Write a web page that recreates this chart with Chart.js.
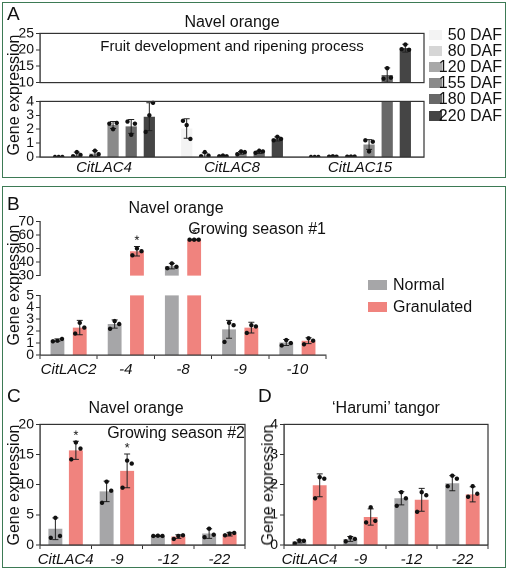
<!DOCTYPE html>
<html><head><meta charset="utf-8">
<script src="https://cdn.jsdelivr.net/npm/chart.js@4/dist/chart.umd.min.js"></script>
<style>
body{margin:0;width:508px;height:570px;position:relative;background:#fff;font-family:"Liberation Sans",Arial,sans-serif;color:#111;overflow:hidden}
.box{position:absolute;border:1.5px solid #3d7a55;box-sizing:border-box}
.t{position:absolute;white-space:nowrap;line-height:1}
canvas{position:absolute}
.sw{position:absolute}
.yt{position:absolute;transform:translate(-50%,-50%) rotate(-90deg);white-space:nowrap;font-size:16px}
</style></head><body>
<div class="box" style="left:2px;top:2px;width:504px;height:176px"></div>
<div class="box" style="left:2px;top:186px;width:504px;height:382px"></div>
<div id="root"></div>
<script>
// ---------- DATA ----------
const catsA = ["CitLAC4","CitLAC8","CitLAC15"];
const seriesA = ["50 DAF","80 DAF","120 DAF","155 DAF","180 DAF","220 DAF"];
const meansA = [[0.02,2.05,0.02],[0.2,0.15,0.03],[0.25,0.05,0.03],[2.3,0.3,0.9],[2.2,0.35,12.3],[2.9,1.3,20.5]];
const sdA = [[0,0.7,0],[0.15,0.15,0.02],[0.2,0.05,0.01],[0.25,0.1,0.35],[0.5,0.1,2.2],[1.0,0.15,1.2]];
const ptsA = [
 [[0,0,0],[2.6,2.3,1.3],[0,0,0]],
 [[0.05,0.35,0.15],[0.05,0.35,0.1],[0.02,0.05,0.02]],
 [[0.05,0.45,0.2],[0.05,0.1,0.05],[0.02,0.03,0.03]],
 [[2.4,2.0,2.45],[0.2,0.4,0.35],[1.2,0.4,1.1]],
 [[2.55,1.6,2.4],[0.3,0.45,0.4],[11.2,14.4,11.5]],
 [[1.8,3.0,3.9],[1.2,1.45,1.3],[20.2,21.6,20.0]]];
const colorsA = ["#f3f3f3","#d6d6d6","#a8a8a8","#8a8a8a","#686868","#454545"];

const catsB = ["CitLAC2","-4","-8","-9","-10"];
const normB = [1.25,2.6,37,2.15,1.05], normSdB=[0.1,0.35,2,0.75,0.25];
const granB = [2.3,48,56.5,2.3,1.2], granSdB=[0.6,3.5,0.3,0.45,0.25];
const normPtsB=[[1.15,1.2,1.35],[2.2,2.85,2.6],[35.5,39,36.5],[1.1,2.7,2.5],[0.8,1.25,1.0]];
const granPtsB=[[1.8,2.7,2.3],[45,50,48],[56.5,56.5,56.5],[1.85,2.5,2.4],[0.9,1.4,1.2]];
const starsB=[false,true,true,false,false];

const catsC = ["CitLAC4","-9","-12","-22"];
const normC=[2.7,8.9,1.5,1.9], normSdC=[1.8,1.7,0.1,0.8];
const granC=[15.7,12.3,1.4,1.8], granSdC=[1.5,2.8,0.3,0.3];
const normPtsC=[[1.2,4.5,1.5],[7,10.5,9],[1.5,1.55,1.5],[1.3,2.7,1.7]];
const granPtsC=[[14.2,17,16],[9.5,14,13.5],[1.0,1.5,1.6],[1.6,1.9,2.0]];
const starsC=[true,true,false,false];

const catsD = ["CitLAC4","-9","-12","-22"];
const normD=[0.12,0.2,1.55,2.05], normSdD=[0.05,0.08,0.22,0.25];
const granD=[1.98,0.93,1.5,1.68], granSdD=[0.38,0.27,0.38,0.25];
const normPtsD=[[0.05,0.15,0.14],[0.12,0.25,0.2],[1.3,1.75,1.55],[1.95,2.3,2.2]];
const granPtsD=[[1.55,2.25,2.2],[0.75,1.25,0.8],[1.1,1.75,1.65],[1.6,1.95,1.7]];

const NORMAL="#a6a6a8", GRAN="#f0837e";
const FONT='Arial,"Liberation Sans",sans-serif';

// ---------- plugin ----------
const deco={id:'deco',afterDatasetsDraw(ch,a,o){
  const c=ch.ctx,ca=ch.chartArea,y=ch.scales.y;
  c.save();c.beginPath();c.rect(ca.left,ca.top-14,ca.right-ca.left,ca.bottom-ca.top+14);c.clip();
  ch.data.datasets.forEach((ds,di)=>{
    ch.getDatasetMeta(di).data.forEach((bar,i)=>{
      const m=ds.data[i],s=ds.sd[i],x=bar.x,w=bar.width;
      c.strokeStyle='#222';c.lineWidth=1;c.beginPath();
      const y1=y.getPixelForValue(m-s),y2=y.getPixelForValue(m+s);
      c.moveTo(x,y1);c.lineTo(x,y2);c.moveTo(x-3,y1);c.lineTo(x+3,y1);c.moveTo(x-3,y2);c.lineTo(x+3,y2);c.stroke();
      c.fillStyle='#111';
      ds.pts[i].forEach((p,k)=>{c.beginPath();c.arc(x+(k-1)*w*0.33,y.getPixelForValue(p),2.2,0,7);c.fill();});
      if(ds.stars&&ds.stars[i]){const ty=y.getPixelForValue(m+s);if(ty>=ca.top-2){c.font='13px '+FONT;c.textAlign='center';c.fillText('*',x,ty-2);}}
    });
  });
  c.restore();
  if(o.box){c.save();c.strokeStyle='#333';c.lineWidth=1.2;c.strokeRect(ca.left,ca.top,ca.right-ca.left,ca.bottom-ca.top);c.restore();}
}};

function mk(plot,opt){
  const yw=38,xh=opt.xlabels?22:0;
  const cv=document.createElement('canvas');
  const W=plot.r-plot.l+yw+4,H=plot.b-plot.t+8+(opt.xlabels?xh:4);
  cv.style.left=(plot.l-yw)+'px';cv.style.top=(plot.t-8)+'px';
  cv.style.width=W+'px';cv.style.height=H+'px';cv.width=W;cv.height=H;
  document.getElementById('root').appendChild(cv);
  new Chart(cv,{type:'bar',data:{labels:opt.labels,datasets:opt.datasets},
   plugins:[deco],
   options:{responsive:false,animation:false,devicePixelRatio:2,
    layout:{padding:{top:8,right:4,bottom:opt.xlabels?0:4,left:0}},
    plugins:{legend:{display:false},tooltip:{enabled:false},deco:{box:opt.box}},
    datasets:{bar:{categoryPercentage:opt.cp,barPercentage:opt.bp}},
    scales:{
     x:{display:!!opt.xlabels,grid:{drawOnChartArea:false,drawTicks:opt.xticks,tickLength:4,color:'#333'},border:{display:true,color:'#333',width:1.2},
        ticks:{font:{family:FONT,size:15,style:'italic'},color:'#111',padding:2,maxRotation:0,autoSkip:false},
        afterFit(s){s.height=xh;}},
     y:{min:opt.min,max:opt.max,grid:{drawOnChartArea:false,tickLength:4,color:'#333'},border:{display:true,color:'#333',width:1.2},
        ticks:{stepSize:opt.step,autoSkip:false,font:{family:FONT,size:14},color:'#111',padding:2},
        afterFit(s){s.width=yw;}}
    }}});
}
function pair(nm,nsd,npt,gm,gsd,gpt,stars){
  return [{data:nm,sd:nsd,pts:npt,backgroundColor:NORMAL},{data:gm,sd:gsd,pts:gpt,stars:stars,backgroundColor:GRAN}];
}
const dsA=seriesA.map((s,k)=>({label:s,data:meansA[k],sd:sdA[k],pts:ptsA[k],backgroundColor:colorsA[k]}));
mk({l:40,r:424,t:31,b:89},{labels:catsA,datasets:dsA,min:10,max:25,step:5,cp:0.85,bp:0.62,box:true});
mk({l:40,r:424,t:99,b:157},{labels:catsA,datasets:dsA,min:0,max:4,step:1,cp:0.85,bp:0.62,box:true,xlabels:true,xticks:false});
const dsB=pair(normB,normSdB,normPtsB,granB,granSdB,granPtsB,starsB);
mk({l:40,r:326,t:219,b:282},{labels:catsB,datasets:dsB,min:30,max:70,step:10,cp:0.78,bp:0.62});
mk({l:40,r:326,t:293,b:355},{labels:catsB,datasets:dsB,min:0,max:5,step:1,cp:0.78,bp:0.62,xlabels:true,xticks:true});
mk({l:40,r:245,t:422,b:545},{labels:catsC,datasets:pair(normC,normSdC,normPtsC,granC,granSdC,granPtsC,starsC),min:0,max:20,step:5,cp:0.8,bp:0.68,box:true,xlabels:true,xticks:true});
mk({l:284,r:488,t:422,b:545},{labels:catsD,datasets:pair(normD,normSdD,normPtsD,granD,granSdD,granPtsD,null),min:0,max:4,step:1,cp:0.8,bp:0.68,box:true,xlabels:true,xticks:true});

// ---------- text ----------
const R=document.getElementById('root');
function txt(s,x,y,size,align,extra){const d=document.createElement('div');d.className='t';d.textContent=s;d.style.fontSize=size+'px';d.style.top=(y-size/2)+'px';
 if(align==='c'){d.style.left=x+'px';d.style.transform='translateX(-50%)';}else if(align==='r'){d.style.right=(508-x)+'px';}else d.style.left=x+'px';
 if(extra)Object.assign(d.style,extra);R.appendChild(d);}
function ytitle(x,y){const d=document.createElement('div');d.className='yt';d.textContent='Gene expression';d.style.left=x+'px';d.style.top=y+'px';R.appendChild(d);}
txt('A',7,13,19);txt('B',7,203,19);txt('C',7,395,19);txt('D',258,395,19);
txt('Navel orange',232,22,16,'c');txt('Fruit development and ripening process',232,45,15,'c');
txt('Navel orange',176,208,16,'c');txt('Growing season #1',326,229,16,'r');
txt('Navel orange',136,408,16,'c');txt('Growing season #2',245,433,16,'r');
txt('\u2018Harumi\u2019 tangor',386,408,16,'c');
ytitle(14,95);ytitle(14,285);ytitle(14,485);ytitle(268,485);
seriesA.forEach((s,k)=>{const y=35+k*16.1;const d=document.createElement('div');d.className='sw';
 Object.assign(d.style,{left:'429px',top:(y-5)+'px',width:'13px',height:'10px',background:colorsA[k]});R.appendChild(d);
 txt(s,502,y,16,'r');});
[['Normal',NORMAL,285],['Granulated',GRAN,307]].forEach(([s,c,y])=>{const d=document.createElement('div');d.className='sw';
 Object.assign(d.style,{left:'368px',top:(y-5)+'px',width:'19px',height:'10px',background:c});R.appendChild(d);txt(s,393,y,16);});
</script></body></html>
